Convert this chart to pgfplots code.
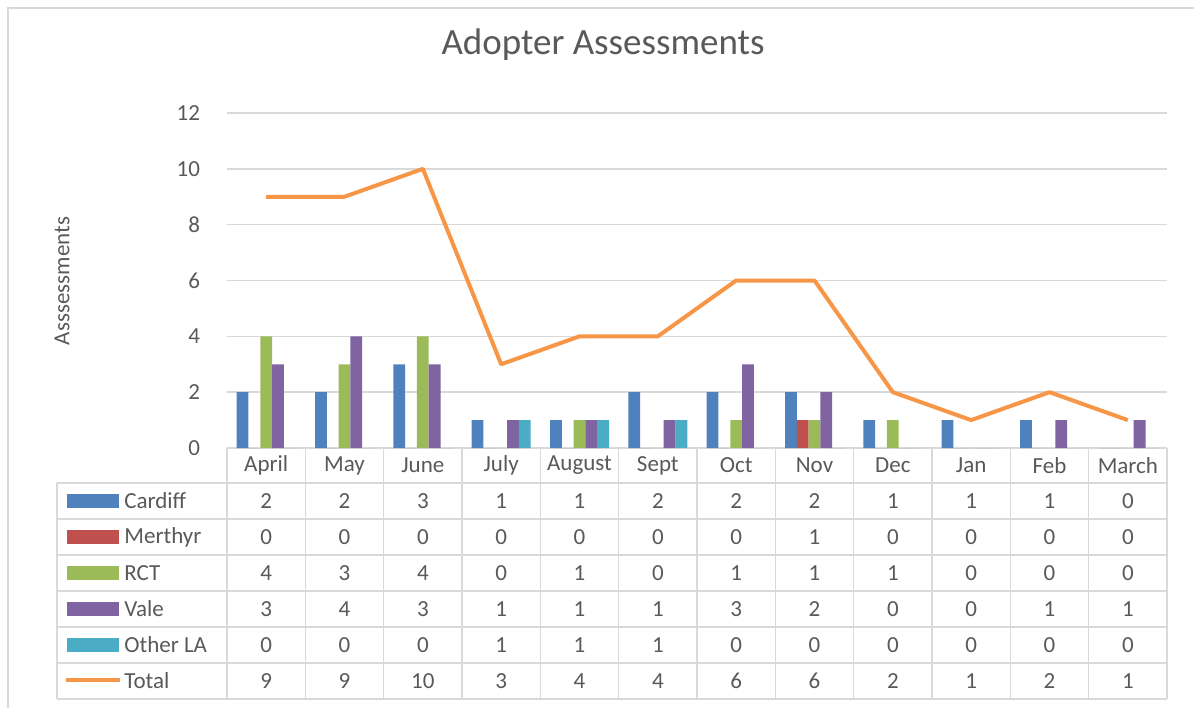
\documentclass[border=0pt]{standalone}
\usepackage{fontspec}
\setmainfont{Carlito}
\usepackage{pgfplots}
\usepackage{pgfplotstable}
\pgfplotsset{compat=1.18}
\definecolor{cardiff}{HTML}{4F81BD}
\definecolor{merthyr}{HTML}{C0504D}
\definecolor{rct}{HTML}{9BBB59}
\definecolor{vale}{HTML}{8064A2}
\definecolor{otherla}{HTML}{4BACC6}
\definecolor{total}{HTML}{F79646}
\definecolor{txtgray}{HTML}{595959}
\definecolor{gridgray}{HTML}{D9D9D9}
\newcommand{\lblfont}{\fontsize{11.5}{13}\selectfont}
\newcommand{\ttlfont}{\fontsize{18.5}{21}\selectfont}
\pgfplotstableread{
x Cardiff Merthyr RCT Vale Other Total
0 2 0 4 3 0 9
1 2 0 3 4 0 9
2 3 0 4 3 0 10
3 1 0 0 1 1 3
4 1 0 1 1 1 4
5 2 0 0 1 1 4
6 2 0 1 3 0 6
7 2 1 1 2 0 6
8 1 0 1 0 0 2
9 1 0 0 0 0 1
10 1 0 0 1 0 2
11 0 0 0 1 0 1
}\datatable
\begin{document}
\begin{tikzpicture}
\begin{scope}[x=0.5pt,y=-0.5pt]
\useasboundingbox (0,0) rectangle (1194,708);
\draw[gridgray, line width=0.75pt] (8,708) -- (8,8) -- (1194,8);
\node[font=\ttlfont, text=txtgray] at (603,45) {Adopter Assessments};
\node[font=\lblfont, text=txtgray, rotate=90] at (62,281) {Asssessments};
% table grid
\begin{scope}[gridgray, line width=0.75pt]
\draw (227,448) -- (1167,448);
\foreach \r in {483,519,555,591,627,663,699} \draw (57,\r) -- (1167,\r);
\draw (57,483) -- (57,699);
\foreach \i in {0,...,12} \draw (227+78.333*\i,448) -- (227+78.333*\i,699);
\end{scope}
% month headers
\foreach \m [count=\i from 0] in {April,May,June,July,August,Sept,Oct,Nov,Dec,Jan,Feb,March}
  \node[font=\lblfont, text=txtgray] at (266.17+78.333*\i,465.5) {\m};
% legend keys and names
\foreach \c/\n/\y in {cardiff/Cardiff/501, merthyr/Merthyr/537, rct/RCT/573, vale/Vale/609, otherla/Other LA/645}{
  \fill[\c] (67,\y-7) rectangle (119,\y+7);
  \node[font=\lblfont, text=txtgray, anchor=west, inner sep=0pt] at (124,\y) {\n};
}
\draw[total, line width=2pt] (66,680) -- (120,680);
\node[font=\lblfont, text=txtgray, anchor=west, inner sep=0pt] at (124,681) {Total};
% values
\foreach \col/\y in {Cardiff/501, Merthyr/537, RCT/573, Vale/609, Other/645, Total/681}{
  \foreach \i in {0,...,11}{
    \pgfplotstablegetelem{\i}{\col}\of\datatable
    \node[font=\lblfont, text=txtgray] at (266.17+78.333*\i,\y) {\pgfplotsretval};
  }
}
\end{scope}
\begin{axis}[
  at={(113.5pt,-224pt)}, anchor=south west,
  scale only axis, width=470pt, height=167.5pt,
  xmin=-0.5, xmax=11.5, ymin=0, ymax=12,
  ytick={0,2,...,12}, xtick=\empty,
  ymajorgrids, grid style={gridgray, line width=0.75pt},
  axis line style={draw=none}, major tick length=0pt,
  yticklabel style={font=\lblfont, text=txtgray, xshift=-10pt},
  /pgf/number format/assume math mode=true,
  clip=false,
]
\addplot[ybar, bar width=5.9pt, bar shift=-11.8pt, fill=cardiff, draw=none] table[x=x,y=Cardiff]{\datatable};
\addplot[ybar, bar width=5.9pt, bar shift=-5.9pt, fill=merthyr, draw=none] table[x=x,y=Merthyr]{\datatable};
\addplot[ybar, bar width=5.9pt, bar shift=0pt, fill=rct, draw=none] table[x=x,y=RCT]{\datatable};
\addplot[ybar, bar width=5.9pt, bar shift=5.9pt, fill=vale, draw=none] table[x=x,y=Vale]{\datatable};
\addplot[ybar, bar width=5.9pt, bar shift=11.8pt, fill=otherla, draw=none] table[x=x,y=Other]{\datatable};
\addplot[total, line width=2pt, line join=round, mark=none] table[x=x,y=Total]{\datatable};
\end{axis}
\end{tikzpicture}
\end{document}
